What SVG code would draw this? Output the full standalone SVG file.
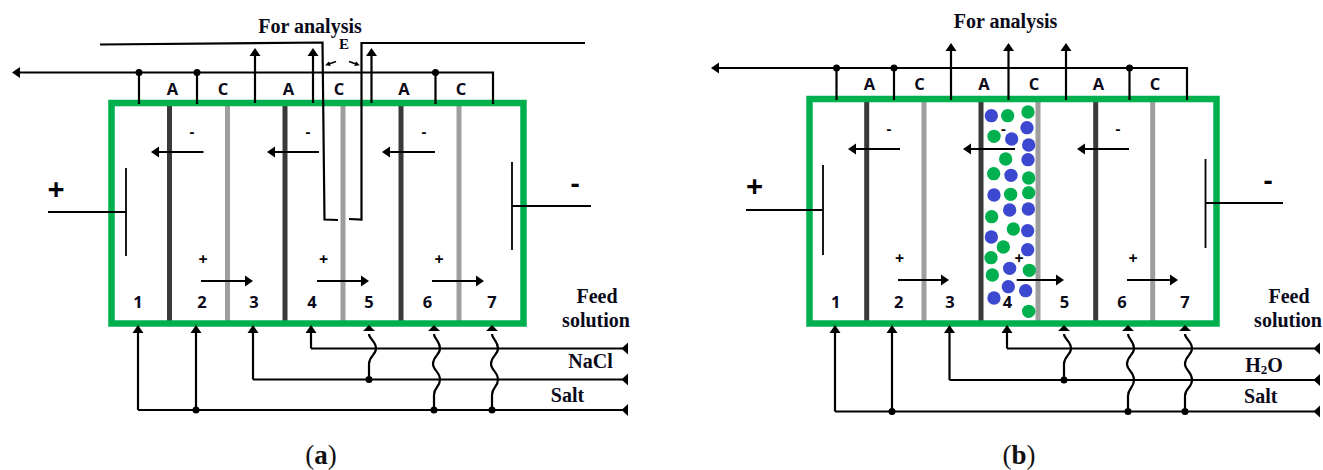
<svg xmlns="http://www.w3.org/2000/svg" width="1323" height="470" viewBox="0 0 1323 470">
<style>
.box{fill:none;stroke:#00b04f;stroke-width:6.5}
.am{stroke:#3a3a3a;stroke-width:5}
.cm{stroke:#9e9e9e;stroke-width:5}
.w{fill:none;stroke:#000;stroke-width:2.2}
.t{fill:none;stroke:#000;stroke-width:1.8}
.ae{marker-end:url(#ah)}
.as{marker-end:url(#sa)}
.dot{fill:#000}
.b{fill:#3c48d0}
.g{fill:#00b04f}
.s{font-family:"Liberation Serif",serif;font-weight:700;font-size:20px;fill:#0a0a1a;text-anchor:middle}
.o{font-family:"Open Sans",sans-serif;font-weight:700;font-size:16.5px;fill:#0a0a1a;text-anchor:middle}
.sign{font-family:"Open Sans",sans-serif;font-weight:700;fill:#000;text-anchor:middle}
.cap{font-family:"Liberation Serif",serif;font-size:27px;fill:#111;text-anchor:middle}
</style>
<defs>
<marker id="ah" markerUnits="userSpaceOnUse" markerWidth="9" markerHeight="12" refX="2" refY="6" orient="auto"><path d="M0,0.5L8,6L0,11.5z" fill="#000"/></marker>
<marker id="sa" markerUnits="userSpaceOnUse" markerWidth="6" markerHeight="6" refX="1" refY="3" orient="auto"><path d="M0,0.5L5,3L0,5.5z" fill="#000"/></marker>
</defs>
<g id="a-stack">
<line class="am" x1="169.500" y1="104" x2="169.500" y2="322"/><line class="cm" x1="227.500" y1="104" x2="227.500" y2="322"/>
<line class="am" x1="285" y1="104" x2="285" y2="322"/><line class="cm" x1="343" y1="104" x2="343" y2="322"/>
<line class="am" x1="401" y1="104" x2="401" y2="322"/><line class="cm" x1="459" y1="104" x2="459" y2="322"/>
<rect class="box" x="111.500" y="103" width="412" height="220.500"/>
</g>
<g id="a-electrode-plus"><path class="t" d="M126,168V256M48,212H126"/><text class="sign" x="56" y="200" font-size="30">+</text></g>
<g id="a-electrode-minus"><path class="t" d="M512,162V250M512,206H591"/><text class="sign" x="575" y="193" font-size="27">-</text></g>
<g id="a-connectors">
<path class="w ae" d="M139,72.500H18"/><path class="w" d="M139,72.500H493V104M139,72.500V104M197,72.500V104M435.500,72.500V104"/>
<path class="w ae" d="M255,103V54"/><path class="w ae" d="M313,103V54"/><path class="w ae" d="M371.500,103V54"/>
<circle class="dot" cx="139" cy="72.500" r="3.500"/><circle class="dot" cx="197" cy="72.500" r="3.500"/><circle class="dot" cx="435.500" cy="72.500" r="3.500"/>
<path class="w" d="M100,44.500L322.500,42.500L324.500,219.500L338,220"/><path class="w" d="M585,43H361.500V219.500L349,219"/>
<path class="t as" d="M336,61.500L329,64" stroke-width="1.200"/><path class="t as" d="M349,61.500L356,64" stroke-width="1.200"/>
<path class="w ae" d="M203.500,152H157"/><path class="w ae" d="M319,152H273"/><path class="w ae" d="M435,152H388"/>
<path class="w ae" d="M201,281H247"/><path class="w ae" d="M317,281H363"/><path class="w ae" d="M432,281H478"/>
<path class="w ae" d="M138,410V331"/><path class="w ae" d="M196,410V331"/>
<path class="w" d="M138,410H624"/><path class="w ae" d="M253,379.500V331"/><path class="w" d="M253,379.500H624"/><path class="w ae" d="M311,348.500V331"/><path class="w" d="M311,348.500H624"/>
<path d="M628,342.500V354.500L621.500,348.500zM628,373.500V385.500L621.500,379.500zM628,404V416L621.500,410z" fill="#000"/>
<path class="w" d="M369,334C369,339 376,341 376,348.500C376,355 369,356 369,364V379.500"/>
<path class="w" d="M434,334C434,339 440,341 440,348.500C440,355 433,356 433,364C433,370 440,372 440,379.500C440,387 434,387 434,395V410"/>
<path class="w" d="M492,334C492,339 498,341 498,348.500C498,355 491,356 491,364C491,370 498,372 498,379.500C498,387 492,387 492,395V410"/>
<path d="M369,325L375,331H363zM434,325L440,331H428zM492,325L498,331H486z" fill="#000"/>
<circle class="dot" cx="196" cy="410" r="3.500"/><circle class="dot" cx="369" cy="379.500" r="3.500"/><circle class="dot" cx="434" cy="410" r="3.500"/><circle class="dot" cx="492" cy="410" r="3.500"/>
</g>
<g id="a-labels">
<text class="s" x="310" y="33">For analysis</text><text class="s" x="344" y="49" style="font-size:15px">E</text>
<text class="o" x="172.500" y="94.500">A</text><text class="o" x="223" y="94.500">C</text><text class="o" x="288.500" y="94.500">A</text><text class="o" x="339" y="94.500">C</text><text class="o" x="404" y="94.500">A</text><text class="o" x="461" y="94.500">C</text>
<text class="sign" x="192" y="136.500" font-size="15">-</text><text class="sign" x="308" y="136.500" font-size="15">-</text><text class="sign" x="424" y="136.500" font-size="15">-</text>
<text class="sign" x="203" y="265" font-size="16">+</text><text class="sign" x="323.500" y="265" font-size="16">+</text><text class="sign" x="439" y="265" font-size="16">+</text>
<text class="o" x="138" y="308">1</text><text class="o" x="202" y="308">2</text><text class="o" x="254" y="308">3</text><text class="o" x="312" y="308">4</text><text class="o" x="369" y="308">5</text><text class="o" x="427.500" y="308">6</text><text class="o" x="492" y="308">7</text>
<text class="s" x="597" y="303">Feed</text><text class="s" x="596" y="327">solution</text><text class="s" x="590.500" y="367.500">NaCl</text><text class="s" x="567.500" y="401.500">Salt</text>
<text class="cap" x="321" y="464">(<tspan font-weight="700">a</tspan>)</text>
</g>
<g id="b-stack">
<line class="am" x1="866.700" y1="100" x2="866.700" y2="322"/><line class="cm" x1="924" y1="100" x2="924" y2="322"/>
<line class="am" x1="981" y1="100" x2="981" y2="322"/><line class="cm" x1="1038" y1="100" x2="1038" y2="322"/>
<line class="am" x1="1095.700" y1="100" x2="1095.700" y2="322"/><line class="cm" x1="1152.700" y1="100" x2="1152.700" y2="322"/>
<rect class="box" x="809.500" y="99" width="407" height="224.500"/>
</g>
<g id="b-particles" transform="translate(940 90) scale(.33333)">
<g class="b"><circle cx="154" cy="77" r="20"/><circle cx="261" cy="113" r="20"/><circle cx="215" cy="147" r="20"/><circle cx="266" cy="165" r="20"/><circle cx="264" cy="209" r="20"/><circle cx="213" cy="256" r="20"/><circle cx="162" cy="315" r="20"/><circle cx="209" cy="360" r="20"/><circle cx="265" cy="357" r="20"/><circle cx="263" cy="422" r="20"/><circle cx="154" cy="441" r="20"/><circle cx="263" cy="479" r="20"/><circle cx="209" cy="535" r="20"/><circle cx="205" cy="590" r="20"/><circle cx="257" cy="602" r="20"/><circle cx="162" cy="624" r="20"/></g>
<g class="g"><circle cx="203" cy="77" r="20"/><circle cx="264" cy="66" r="20"/><circle cx="162" cy="139" r="20"/><circle cx="197" cy="207" r="20"/><circle cx="161" cy="251" r="20"/><circle cx="266" cy="264" r="20"/><circle cx="212" cy="313" r="20"/><circle cx="266" cy="308" r="20"/><circle cx="155" cy="380" r="20"/><circle cx="220" cy="417" r="20"/><circle cx="190" cy="471" r="20"/><circle cx="153" cy="503" r="20"/><circle cx="157" cy="555" r="20"/><circle cx="268" cy="541" r="20"/><circle cx="266" cy="664" r="20"/></g>
</g>
<g id="b-electrode-plus"><path class="t" d="M823,165V255M746,210H823"/><text class="sign" x="754.500" y="197" font-size="30">+</text></g>
<g id="b-electrode-minus"><path class="t" d="M1205.500,159V248M1205.500,203H1283"/><text class="sign" x="1268" y="190" font-size="27">-</text></g>
<g id="b-connectors">
<path class="w ae" d="M836.500,68H717"/><path class="w" d="M836.500,68H1187V100M836.500,68V100M894,68V100M1129.500,68V100"/>
<path class="w ae" d="M951,100V49"/><path class="w ae" d="M1008.500,100V49"/><path class="w ae" d="M1066,100V49"/>
<circle class="dot" cx="836.500" cy="68" r="3.500"/><circle class="dot" cx="894" cy="68" r="3.500"/><circle class="dot" cx="1129.500" cy="68" r="3.500"/>
<path class="w ae" d="M900,149H854"/><path class="w ae" d="M1015,149H969"/><path class="w ae" d="M1129,149H1083"/>
<path class="w ae" d="M898,280H943"/><path class="w ae" d="M1016.700,280H1058"/><path class="w ae" d="M1127,280H1172"/>
<path class="w ae" d="M835,411.500V331"/><path class="w ae" d="M892,411.500V331"/>
<path class="w" d="M835,411.500H1316"/><path class="w ae" d="M949.500,380V331"/><path class="w" d="M949.500,380H1316"/><path class="w ae" d="M1007,348.500V331"/><path class="w" d="M1007,348.500H1316"/>
<path d="M1320,342.500V354.500L1313.500,348.500zM1320,374V386L1313.500,380zM1320,405.500V417.500L1313.500,411.500z" fill="#000"/>
<path class="w" d="M1064,334C1064,339 1071,341 1071,348.500C1071,355 1064,356 1064,364V380"/>
<path class="w" d="M1128,334C1128,339 1134,341 1134,348.500C1134,355 1127,356 1127,364C1127,370 1134,372 1134,380C1134,388 1128,388 1128,396V411.500"/>
<path class="w" d="M1185,334C1185,339 1192,341 1192,348.500C1192,355 1185,356 1185,364C1185,370 1192,372 1192,380C1192,388 1185,388 1185,396V411.500"/>
<path d="M1064,325L1070,331H1058zM1128,325L1134,331H1122zM1185,325L1191,331H1179z" fill="#000"/>
<circle class="dot" cx="892" cy="411.500" r="3.500"/><circle class="dot" cx="1064" cy="380" r="3.500"/><circle class="dot" cx="1128" cy="411.500" r="3.500"/><circle class="dot" cx="1185" cy="411.500" r="3.500"/>
</g>
<g id="b-labels">
<text class="s" x="1005.500" y="27.500">For analysis</text>
<text class="o" x="869.500" y="90">A</text><text class="o" x="919.500" y="90">C</text><text class="o" x="984" y="90">A</text><text class="o" x="1034" y="90">C</text><text class="o" x="1098.500" y="90">A</text><text class="o" x="1155" y="90">C</text>
<text class="sign" x="889" y="133.500" font-size="15">-</text><text class="sign" x="1003.500" y="133.500" font-size="15">-</text><text class="sign" x="1118" y="133.500" font-size="15">-</text>
<text class="sign" x="899.500" y="264" font-size="16">+</text><text class="sign" x="1019" y="264" font-size="16">+</text><text class="sign" x="1133" y="264" font-size="16">+</text>
<text class="o" x="835.700" y="308">1</text><text class="o" x="898.700" y="308">2</text><text class="o" x="950" y="308">3</text><text class="o" x="1007.500" y="308">4</text><text class="o" x="1064.500" y="308">5</text><text class="o" x="1122" y="308">6</text><text class="o" x="1185" y="308">7</text>
<text class="s" x="1289" y="302.700">Feed</text><text class="s" x="1288" y="326.700">solution</text><text class="s" x="1264" y="371.700">H<tspan font-size="13" dy="2">2</tspan><tspan dy="-2">O</tspan></text><text class="s" x="1260.700" y="402.700">Salt</text>
<text class="cap" x="1019" y="464">(<tspan font-weight="700">b</tspan>)</text>
</g>
</svg>
